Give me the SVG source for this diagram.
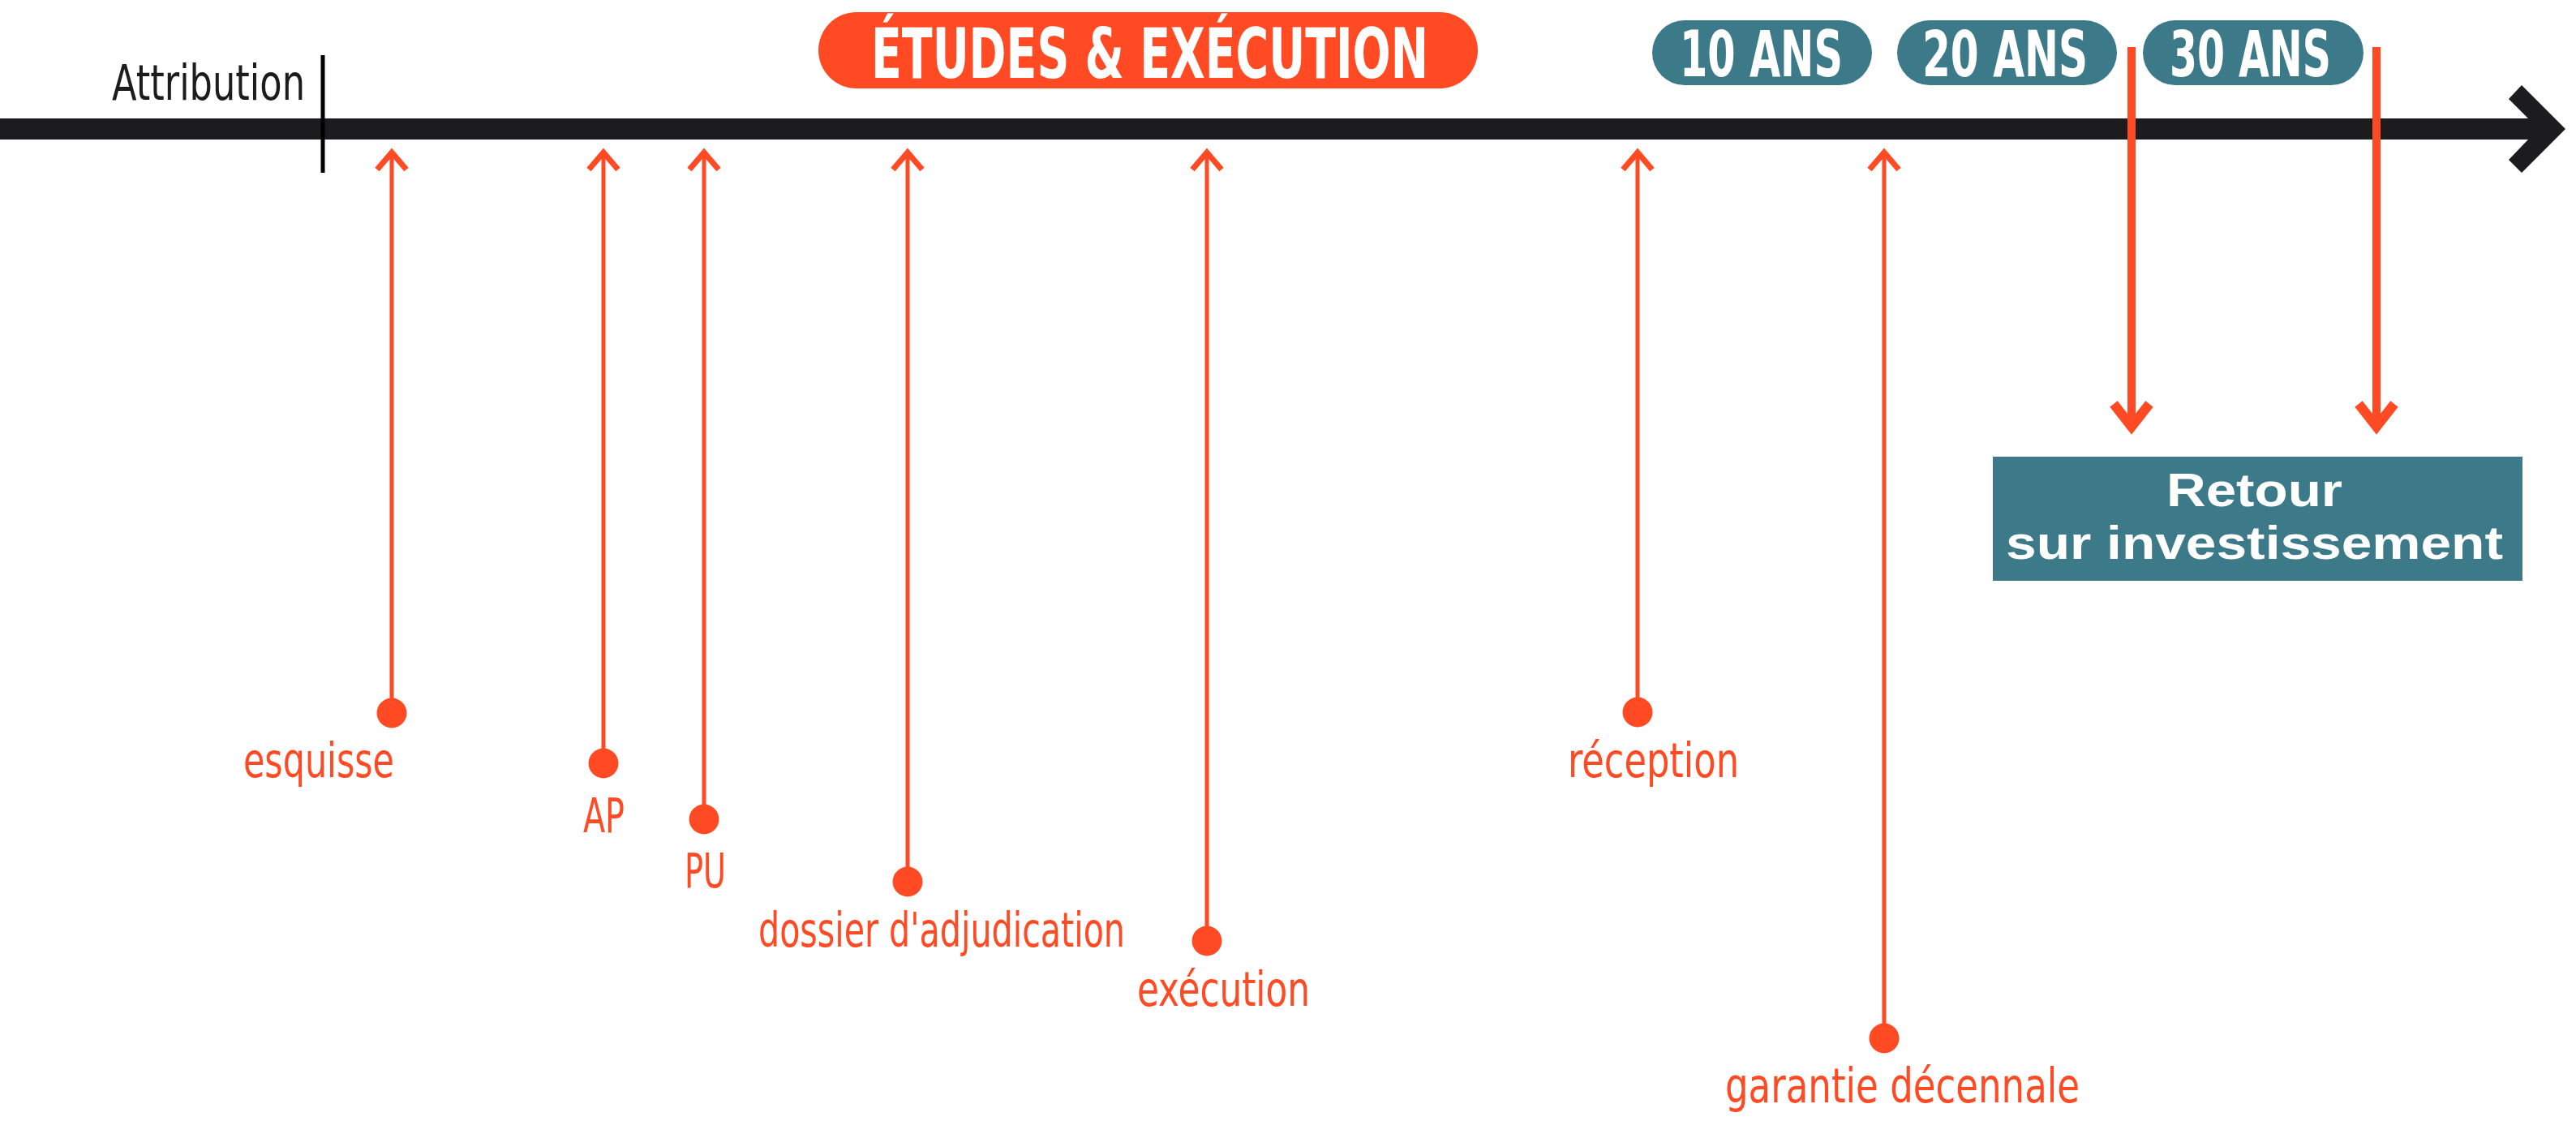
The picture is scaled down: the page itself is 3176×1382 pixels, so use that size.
<svg xmlns="http://www.w3.org/2000/svg" width="3176" height="1382" viewBox="0 0 3176 1382">
<style>
.bg{fill:#ffffff}
.axis{fill:#1c1b1d}
.tick{stroke:#000;stroke-width:5}
.pill-o{fill:#ff4a23}
.pill-t{fill:#3d7a89}
.ptxt{fill:#ffffff;font-family:"DejaVu Sans Condensed","Roboto Condensed","Liberation Sans Narrow","DejaVu Sans",sans-serif;font-weight:bold}
.lbl{fill:#ff4a23;font-family:"DejaVu Sans Condensed","Roboto Condensed","Liberation Sans Narrow","DejaVu Sans",sans-serif;font-size:58px}
.blk{fill:#1c1b1d;font-family:"DejaVu Sans Condensed","Roboto Condensed","Liberation Sans Narrow","DejaVu Sans",sans-serif;font-size:60px}
.up{stroke:#ff4a23;stroke-width:5;fill:none}
.uph{stroke:#ff4a23;stroke-width:7;fill:none;stroke-miterlimit:10}
.dn{stroke:#ff4a23;stroke-width:10;fill:none}
.dnh{stroke:#ff4a23;stroke-width:12;fill:none;stroke-miterlimit:10}
.dot{fill:#ff4a23}
.box{fill:#3d7a89}
.btxt{fill:#ffffff;font-family:"Liberation Sans","Open Sans",sans-serif;font-weight:bold;font-size:57px}
</style>
<rect class="bg" x="0" y="0" width="3176" height="1382"/>

<g id="axis">
  <rect class="axis" x="0" y="146" width="3118" height="26"/>
  <polygon class="axis" points="3109,105 3163,159 3109,213 3093,197 3117,172 3117,146 3093,122"/>
  <line class="tick" x1="398" y1="68" x2="398" y2="213"/>
  <text class="blk" x="138" y="123" textLength="238" lengthAdjust="spacingAndGlyphs">Attribution</text>
</g>

<g id="etudes-execution">
  <rect class="pill-o" x="1009" y="15" width="813" height="94" rx="47" ry="47"/>
  <text class="ptxt" x="1074" y="96" font-size="86" textLength="687" lengthAdjust="spacingAndGlyphs">ÉTUDES &amp; EXÉCUTION</text>
</g>

<g id="ans10">
  <rect class="pill-t" x="2037" y="25" width="271" height="80" rx="40" ry="40"/>
  <text class="ptxt" x="2071" y="94" font-size="79" textLength="201" lengthAdjust="spacingAndGlyphs">10 ANS</text>
</g>
<g id="ans20">
  <rect class="pill-t" x="2339" y="25" width="271" height="80" rx="40" ry="40"/>
  <text class="ptxt" x="2370" y="94" font-size="79" textLength="204" lengthAdjust="spacingAndGlyphs">20 ANS</text>
</g>
<g id="ans30">
  <rect class="pill-t" x="2642" y="25" width="272" height="80" rx="40" ry="40"/>
  <text class="ptxt" x="2675" y="94" font-size="79" textLength="199" lengthAdjust="spacingAndGlyphs">30 ANS</text>
</g>

<g id="retour">
  <rect class="box" x="2457" y="563" width="653" height="153"/>
  <text class="btxt" x="2671" y="624" textLength="217" lengthAdjust="spacingAndGlyphs">Retour</text>
  <text class="btxt" x="2473" y="689" textLength="613" lengthAdjust="spacingAndGlyphs">sur investissement</text>
</g>

<g id="connectors">
  <line class="up" x1="483" y1="879" x2="483" y2="190"/>
  <polyline class="uph" points="465,209 483,188 501,209"/>
  <line class="up" x1="744" y1="941" x2="744" y2="190"/>
  <polyline class="uph" points="726,209 744,188 762,209"/>
  <line class="up" x1="868" y1="1010" x2="868" y2="190"/>
  <polyline class="uph" points="850,209 868,188 886,209"/>
  <line class="up" x1="1119" y1="1087" x2="1119" y2="190"/>
  <polyline class="uph" points="1101,209 1119,188 1137,209"/>
  <line class="up" x1="1488" y1="1160" x2="1488" y2="190"/>
  <polyline class="uph" points="1470,209 1488,188 1506,209"/>
  <line class="up" x1="2019" y1="878" x2="2019" y2="190"/>
  <polyline class="uph" points="2001,209 2019,188 2037,209"/>
  <line class="up" x1="2323" y1="1280" x2="2323" y2="190"/>
  <polyline class="uph" points="2305,209 2323,188 2341,209"/>

  <line class="dn" x1="2628" y1="58" x2="2628" y2="524"/>
  <polyline class="dnh" points="2606,498 2628,526 2650,498"/>
  <line class="dn" x1="2930" y1="58" x2="2930" y2="524"/>
  <polyline class="dnh" points="2908,498 2930,526 2952,498"/>
</g>

<g id="esquisse">
  <circle class="dot" cx="483" cy="879" r="18.5"/>
  <text class="lbl" x="300" y="958" textLength="186" lengthAdjust="spacingAndGlyphs">esquisse</text>
</g>
<g id="ap">
  <circle class="dot" cx="744" cy="941" r="18.5"/>
  <text class="lbl" x="719" y="1026" font-size="70" textLength="51" lengthAdjust="spacingAndGlyphs">AP</text>
</g>
<g id="pu">
  <circle class="dot" cx="868" cy="1010" r="18.5"/>
  <text class="lbl" x="844" y="1094" font-size="70" textLength="51" lengthAdjust="spacingAndGlyphs">PU</text>
</g>
<g id="dossier">
  <circle class="dot" cx="1119" cy="1087" r="18.5"/>
  <text class="lbl" x="935" y="1167" textLength="452" lengthAdjust="spacingAndGlyphs">dossier d'adjudication</text>
</g>
<g id="execution">
  <circle class="dot" cx="1488" cy="1160" r="18.5"/>
  <text class="lbl" x="1402" y="1240" textLength="213" lengthAdjust="spacingAndGlyphs">exécution</text>
</g>
<g id="reception">
  <circle class="dot" cx="2019" cy="878" r="18.5"/>
  <text class="lbl" x="1933" y="958" textLength="211" lengthAdjust="spacingAndGlyphs">réception</text>
</g>
<g id="garantie">
  <circle class="dot" cx="2323" cy="1280" r="18.5"/>
  <text class="lbl" x="2127" y="1359" textLength="437" lengthAdjust="spacingAndGlyphs">garantie décennale</text>
</g>
</svg>
